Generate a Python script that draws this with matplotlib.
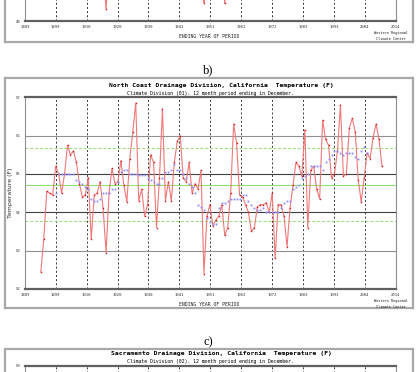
import numpy as np
import matplotlib
matplotlib.use('Agg')
import matplotlib.pyplot as plt
from matplotlib.lines import Line2D

W, H = 417, 372

# оси X общие для всех панелей
xtick_labels = ['1889', '1899', '1910', '1920', '1930', '1941', '1951',
                '1962', '1972', '1983', '1993', '2004', '2014']

# a) верхний график (виден только низ)
years_a = [1915, 1916, 1917, 1918, np.nan, 1949, 1950, 1951, np.nan, 1956, 1957, 1958]
temp_a = [50.6, 50.4, 49.31, 50.5, np.nan, 50.3, 49.49, 50.4, np.nan, 50.2, 49.47, 50.3]

# b) North Coast Drainage
years_b = np.arange(1895, 2011)
temp_b = [52.45, 53.3, 54.55, 54.5, 54.45, 55.2, 55.0, 54.5, 55.0, 55.75,
          55.5, 55.6, 55.3, 54.75, 54.4, 54.45, 54.9, 53.3, 54.45, 54.5,
          54.8, 54.1, 52.95, 54.5, 55.15, 54.75, 54.8, 55.35, 54.7, 54.27,
          55.4, 56.1, 56.85, 54.3, 54.6, 53.9, 54.2, 55.5, 55.3, 53.6,
          54.9, 56.7, 54.3, 54.8, 54.3, 55.3, 55.85, 56.0, 54.9, 54.8,
          55.3, 54.5, 54.75, 54.6, 55.1, 52.4, 53.9, 54.2, 53.65, 53.8,
          53.9, 54.2, 53.4, 53.6, 54.5, 56.3, 55.8, 54.45, 54.4, 54.2,
          54.0, 53.5, 53.6, 54.15, 54.2, 54.2, 54.25, 54.0, 54.5, 52.8,
          54.2, 54.2, 53.9, 53.1, 54.1, 54.7, 55.3, 55.2, 54.95, 56.15,
          53.6, 55.1, 55.2, 54.6, 54.35, 56.4, 55.9, 55.75, 54.9, 55.0,
          55.6, 56.8, 54.95, 55.0, 56.2, 56.45, 56.1, 54.85, 54.27, 54.9,
          55.55, 55.4, 55.95, 56.3, 55.9, 55.2]
avg_years_b = np.arange(1900, 2006)
avg_b = [54.5, 55.0, 55.0, 55.0, 55.0, 55.0, 55.0, 54.85, 54.8, 54.75,
         54.65, 54.6, 54.35, 54.3, 54.3, 54.35, 54.5, 54.5, 54.5, 54.6,
         54.6, 54.8, 55.05, 55.1, 55.1, 55.0, 55.0, 55.0, 54.98, 54.98,
         54.98, 54.9, 54.85, 54.8, 54.75, 54.75, 54.9, 55.05, 55.05, 55.1,
         55.25, 55.1, 55.1, 55.0, 54.9, 54.75, 54.65, 54.5, 54.2, 54.15,
         54.05, 53.85, 53.75, 53.7, 53.7, 54.1, 54.25, 54.25, 54.3, 54.35,
         54.35, 54.35, 54.35, 54.45, 54.45, 54.3, 54.2, 54.1, 54.05, 54.05,
         54.1, 54.0, 54.0, 54.0, 54.0, 54.0, 54.1, 54.25, 54.3, 54.3,
         54.6, 54.65, 54.7, 54.9, 54.95, 55.0, 55.2, 55.2, 55.2, 55.2,
         55.1, 55.3, 55.4, 55.5, 55.6, 55.6, 55.55, 55.5, 55.55, 55.55,
         55.55, 55.45, 55.4, 55.6, 55.7, 55.55]
mean_b = 54.72
sd_b = 0.95

# цвета
red_line = '#f07878'
red_dot = '#d81818'
blue_dot = '#8a8aff'
green = '#8ee070'
frame_gray = '#a8a8a8'

X0, X1 = 24.8, 395.6          # левая/правая граница области графика, px
PLOT_H = 191.7                # высота области графика, px
XLIM = (1889.6, 2014.6)
MONO = 'DejaVu Sans Mono'


def px_axes(fig, left, top, right, bottom):
    return fig.add_axes([left / W, 1 - bottom / H, (right - left) / W, (bottom - top) / H])


def fx(x):
    return x / W


def fy(y):
    return 1 - y / H


def setup_panel(fig, bottom_px, ylim, shown_y=None, show_bottom=True):
    """shown_y - какие подписи оси Y попадают в кадр, show_bottom - видна ли нижняя часть"""
    ax = px_axes(fig, X0, bottom_px - PLOT_H, X1, bottom_px)
    ax.set_xlim(XLIM)
    ax.set_ylim(ylim)
    ax.set_facecolor('white')
    xt = np.linspace(XLIM[0], XLIM[1], 13)
    ax.set_xticks(xt)
    if show_bottom:
        ax.set_xticklabels(xtick_labels, fontsize=2.8, family=MONO, color='#303030')
    else:
        ax.set_xticklabels([])
    yt = np.arange(ylim[0], ylim[1] + 1)
    ax.set_yticks(yt)
    ax.set_yticklabels([str(v) if (shown_y is None or v in shown_y) else '' for v in yt],
                       fontsize=2.8, family=MONO, color='#303030')
    ax.tick_params(length=0, pad=3)
    for x in xt[1:-1]:
        ax.axvline(x, color='#202020', lw=0.6, ls=(0, (2.5, 2.5)), zorder=1)
    for s in ('left', 'right'):
        ax.spines[s].set_color('#909090')
        ax.spines[s].set_linewidth(0.8)
    for s in ('top', 'bottom'):
        ax.spines[s].set_color('#606060')
        ax.spines[s].set_linewidth(1.6)
    if show_bottom:
        fig.text(fx(209), fy(bottom_px + 15.5), 'ENDING YEAR OF PERIOD', fontsize=3.4,
                 family=MONO, ha='center', va='center', color='#202020')
        fig.text(fx(391), fy(bottom_px + 11.7), 'Western Regional', fontsize=2.6,
                 family=MONO, ha='center', va='center', color='#202020')
        fig.text(fx(391), fy(bottom_px + 17.7), 'Climate Center', fontsize=2.6,
                 family=MONO, ha='center', va='center', color='#202020')
    return ax


def panel_box(fig, top, bottom):
    kw = dict(color=frame_gray, lw=1.6, transform=fig.transFigure)
    fig.add_artist(Line2D([fx(5), fx(5)], [fy(top), fy(bottom)], **kw))
    fig.add_artist(Line2D([fx(412.5), fx(412.5)], [fy(top), fy(bottom)], **kw))
    if top > 0:
        fig.add_artist(Line2D([fx(5), fx(412.5)], [fy(top), fy(top)], **kw))
    if bottom < H:
        fig.add_artist(Line2D([fx(5), fx(412.5)], [fy(bottom), fy(bottom)], **kw))


fig = plt.figure(figsize=(W / 100, H / 100), dpi=100)

# a) верхняя, обрезанная панель
ax_a = setup_panel(fig, 21.3, (49, 54), shown_y=[49])
ax_a.plot(years_a, temp_a, color=red_line, lw=0.8, zorder=3)
ax_a.plot(years_a, temp_a, ls='none', marker='s', ms=1.0, color=red_dot, mec='none', zorder=4)
panel_box(fig, -10, 41.7)

# b) North Coast
fig.text(fx(208), fy(70), 'b)', fontsize=9, family='Liberation Serif', ha='center', va='center')
panel_box(fig, 78.3, 308)
ax_b = setup_panel(fig, 289.0, (52, 57))
for v, c in ((56, '#909090'), (55, '#404040'), (54, '#404040'), (53, '#909090')):
    ax_b.axhline(v, color=c, lw=0.8, zorder=1)
ax_b.axhline(mean_b, color=green, lw=0.8, zorder=2)
ax_b.axhline(mean_b + sd_b, color=green, lw=0.7, ls=(0, (3, 2)), zorder=2)
ax_b.axhline(mean_b - sd_b, color=green, lw=0.7, ls=(0, (3, 2)), zorder=2)
ax_b.plot(years_b, temp_b, color=red_line, lw=0.8, zorder=3)
ax_b.plot(years_b, temp_b, ls='none', marker='s', ms=1.0, color=red_dot, mec='none', zorder=4)
ax_b.plot(avg_years_b, avg_b, ls='none', marker='s', ms=1.3, color=blue_dot, mec='none', zorder=5)
fig.text(fx(11), fy(193), 'Temperature (F)', fontsize=4.5, color='#303030',
         rotation=90, ha='center', va='center')
fig.text(fx(221), fy(85.5), 'North Coast Drainage Division, California  Temperature (F)',
         fontsize=4.6, family=MONO, weight='bold', ha='center', va='center')
fig.text(fx(210.5), fy(94), 'Climate Division (01). 12 month period ending in December.',
         fontsize=3.5, family=MONO, ha='center', va='center')

# c) Sacramento, видна только верхняя часть
fig.text(fx(208), fy(342), 'c)', fontsize=9, family='Liberation Serif', ha='center', va='center')
panel_box(fig, 349, H + 20)
ax_c = setup_panel(fig, 366 + PLOT_H, (54, 59), shown_y=[59], show_bottom=False)
fig.text(fx(221), fy(353), 'Sacramento Drainage Division, California  Temperature (F)',
         fontsize=4.6, family=MONO, weight='bold', ha='center', va='center')
fig.text(fx(210.5), fy(361.5), 'Climate Division (02). 12 month period ending in December.',
         fontsize=3.5, family=MONO, ha='center', va='center')

fig.savefig('out.png', dpi=100)
